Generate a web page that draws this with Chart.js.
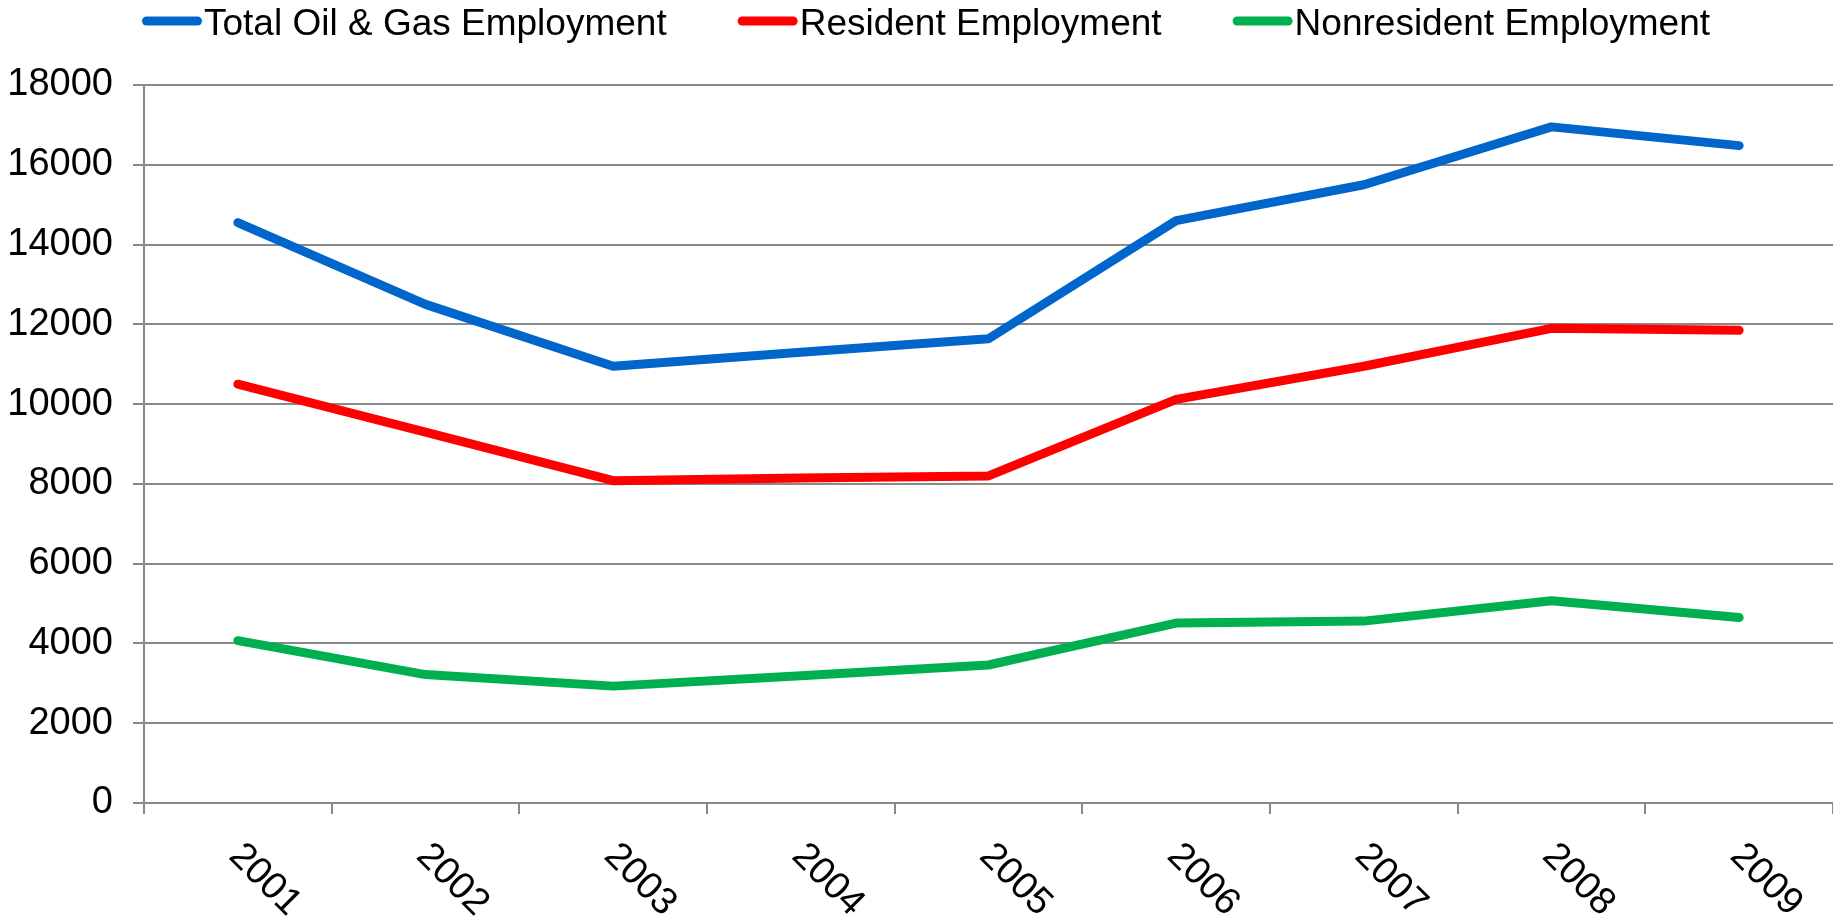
<!DOCTYPE html>
<html>
<head>
<meta charset="utf-8">
<script src="https://cdn.jsdelivr.net/npm/chart.js@4.4.1/dist/chart.umd.min.js"></script>
<style>
    html, body { margin: 0; padding: 0; background: #fff; }
    #wrap { width: 1833px; height: 916px; }
</style>
</head>
<body>
<div id="wrap"><canvas id="chart" width="1833" height="916"></canvas></div>
<script>
// Data
const years = ['2001', '2002', '2003', '2004', '2005', '2006', '2007', '2008', '2009'];
const totalEmployment = [14550, 12500, 10950, 11300, 11640, 14600, 15500, 16950, 16480];
const residentEmployment = [10500, 9300, 8080, 8150, 8200, 10120, 10950, 11900, 11850];
const nonresidentEmployment = [4070, 3220, 2930, 3190, 3460, 4510, 4560, 5070, 4650];
const yTicks = [0, 2000, 4000, 6000, 8000, 10000, 12000, 14000, 16000, 18000];

const fontFamily = '"Liberation Sans", Arial, sans-serif';
const gridColor = '#898989';

// x labels are slanted down to the right, so draw them ourselves
const slantedLabels = {
    id: 'slantedLabels',
    afterDraw(chart) {
        const xs = chart.scales.x;
        const ctx = chart.ctx;
        ctx.save();
        ctx.font = '38px ' + fontFamily;
        ctx.fillStyle = '#000';
        ctx.textAlign = 'left';
        ctx.textBaseline = 'middle';
        years.forEach((label, i) => {
            const px = xs.getPixelForValue(i);
            ctx.save();
            ctx.translate(px - 3, xs.top + 47);
            ctx.rotate(Math.PI / 4);
            ctx.fillText(label, 0, 0);
            ctx.restore();
        });
        ctx.restore();
    }
};

// legend with the short gap between line sample and text
const lineLegend = {
    id: 'lineLegend',
    afterDraw(chart) {
        const ctx = chart.ctx;
        ctx.save();
        ctx.font = '37px ' + fontFamily;
        ctx.textAlign = 'left';
        ctx.textBaseline = 'alphabetic';
        let x = 142;
        chart.data.datasets.forEach(ds => {
            ctx.strokeStyle = ds.borderColor;
            ctx.lineWidth = 9;
            ctx.lineCap = 'round';
            ctx.beginPath();
            ctx.moveTo(x + 4.5, 21);
            ctx.lineTo(x + 55.5, 21);
            ctx.stroke();
            ctx.fillStyle = '#000';
            ctx.fillText(ds.label, x + 62, 35);
            x += 62 + ctx.measureText(ds.label).width + 71;
        });
        ctx.restore();
    }
};

function lineSet(label, data, color) {
    return {
        label: label,
        data: data,
        borderColor: color,
        backgroundColor: color,
        borderWidth: 9,
        pointRadius: 0,
        tension: 0,
        fill: false,
        borderCapStyle: 'round',
        borderJoinStyle: 'round'
    };
}

const ctx = document.getElementById('chart').getContext('2d');
new Chart(ctx, {
    type: 'line',
    data: {
        labels: years,
        datasets: [
            lineSet('Total Oil & Gas Employment', totalEmployment, '#0066CC'),
            lineSet('Resident Employment', residentEmployment, '#FF0000'),
            lineSet('Nonresident Employment', nonresidentEmployment, '#00B050')
        ]
    },
    options: {
        responsive: false,
        animation: false,
        layout: { padding: { top: 85, right: 0, bottom: 102, left: 0 } },
        plugins: {
            tooltip: { enabled: false },
            legend: { display: false }
        },
        scales: {
            x: {
                type: 'category',
                offset: true,
                grid: {
                    offset: true,
                    drawOnChartArea: false,
                    drawTicks: true,
                    tickLength: 11,
                    color: gridColor,
                    lineWidth: 2
                },
                border: { color: gridColor, width: 2 },
                ticks: { display: false }
            },
            y: {
                min: 0,
                max: 18000,
                afterBuildTicks: (scale) => {
                    scale.ticks = yTicks.map(v => ({ value: v }));
                },
                afterFit: (scale) => {
                    scale.width = 144;
                },
                grid: {
                    color: gridColor,
                    lineWidth: 2,
                    tickLength: 11
                },
                border: { color: gridColor, width: 2 },
                ticks: {
                    font: { family: fontFamily, size: 38 },
                    color: '#000',
                    padding: 20,
                    callback: (v) => String(v)
                }
            }
        }
    },
    plugins: [slantedLabels, lineLegend]
});
</script>
</body>
</html>
